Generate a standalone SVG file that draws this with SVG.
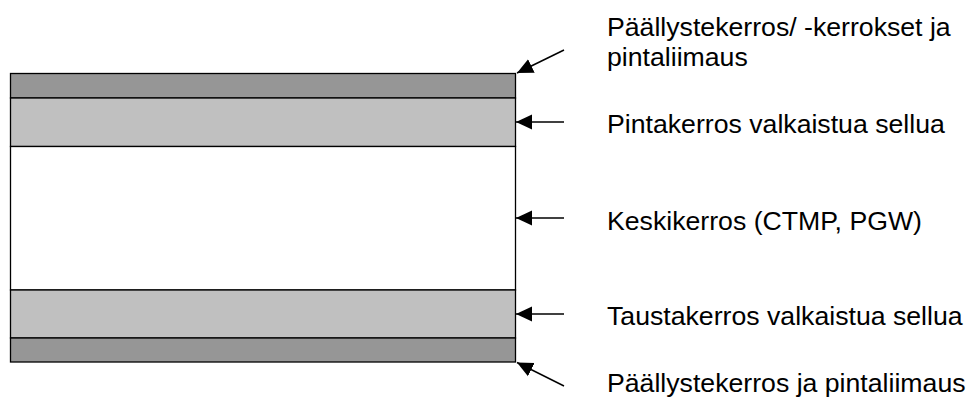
<svg xmlns="http://www.w3.org/2000/svg" width="968" height="399" viewBox="0 0 968 399">
<style>
.lay{stroke:#000;stroke-width:1.3}
.dark{fill:#969696}
.light{fill:#c0c0c0}
.white{fill:#fff}
.lbl{font-family:"Liberation Sans",Arial,sans-serif;font-size:26.67px;fill:#000}
.conn line{stroke:#000;stroke-width:1.5;fill:none}
</style>
<defs>
<marker id="ah" markerUnits="userSpaceOnUse" markerWidth="18" markerHeight="16" refX="16" refY="8" orient="auto">
<path d="M0,0.5 L16,8 L0,15.5 Z" fill="#000"/>
</marker>
</defs>
<rect width="968" height="399" fill="#fff"/>
<g id="layers">
<g id="coat-top"><rect class="lay dark" x="10.5" y="73.5" width="505" height="24.5"/></g>
<g id="surface"><rect class="lay light" x="10.5" y="98" width="505" height="48.5"/></g>
<g id="middle"><rect class="lay white" x="10.5" y="146.5" width="505" height="143.5"/></g>
<g id="back"><rect class="lay light" x="10.5" y="290" width="505" height="48"/></g>
<g id="coat-bottom"><rect class="lay dark" x="10.5" y="338" width="505" height="24"/></g>
</g>
<g id="connectors" class="conn">
<line x1="564" y1="50" x2="517" y2="73" marker-end="url(#ah)"/>
<line x1="564" y1="122" x2="516" y2="122" marker-end="url(#ah)"/>
<line x1="564" y1="218" x2="516" y2="218" marker-end="url(#ah)"/>
<line x1="564" y1="314" x2="516" y2="314" marker-end="url(#ah)"/>
<line x1="564" y1="386" x2="517" y2="362.5" marker-end="url(#ah)"/>
</g>
<g id="label-top"><text class="lbl" x="607" y="36">Päällystekerros/ -kerrokset ja</text><text class="lbl" x="607" y="66">pintaliimaus</text></g>
<g id="label-surface"><text class="lbl" x="607" y="133">Pintakerros valkaistua sellua</text></g>
<g id="label-middle"><text class="lbl" x="607" y="230">Keskikerros (CTMP, PGW)</text></g>
<g id="label-back"><text class="lbl" x="607" y="325">Taustakerros valkaistua sellua</text></g>
<g id="label-bottom"><text class="lbl" x="607" y="392">Päällystekerros ja pintaliimaus</text></g>
</svg>
